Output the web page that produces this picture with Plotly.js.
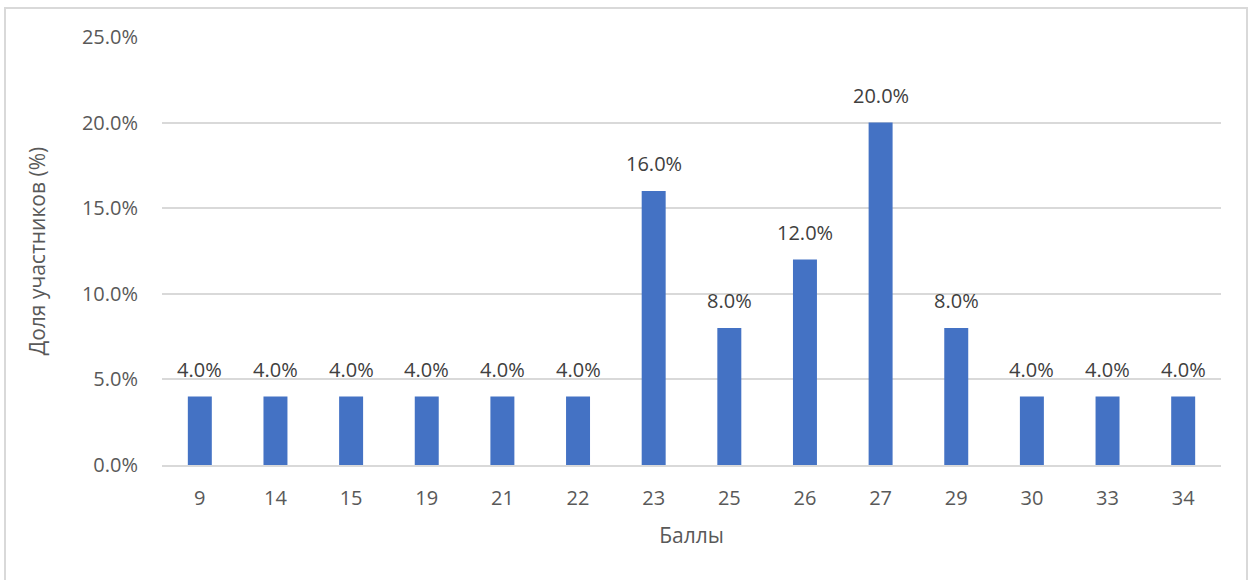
<!DOCTYPE html>
<html>
<head>
<meta charset="utf-8">
<script src="https://cdn.plot.ly/plotly-3.0.1.min.js"></script>
<style>
html,body{margin:0;padding:0;background:#fff;}
#wrap{position:relative;width:1256px;height:580px;}
#chart{width:1256px;height:580px;}
#frame{position:absolute;left:4px;top:7px;width:1244px;height:580px;border:2px solid #d9d9d9;box-sizing:border-box;pointer-events:none;}
</style>
</head>
<body>
<div id="wrap"><div id="chart"></div><div id="frame"></div></div>
<script>
const scores = ["9","14","15","19","21","22","23","25","26","27","29","30","33","34"];
const shares = [4.0,4.0,4.0,4.0,4.0,4.0,16.0,8.0,12.0,20.0,8.0,4.0,4.0,4.0];
const yTicks = [0,5,10,15,20,25];
const yTickLabels = ["0.0%","5.0%","10.0%","15.0%","20.0%","25.0%"];
const xTitle = "Баллы";
const yTitle = "Доля участников (%)";

const font = "'Open Sans', 'Liberation Sans', sans-serif";

const labels = scores.map((s, i) => ({
  x: i, y: shares[i], xref: 'x', yref: 'y',
  text: shares[i].toFixed(1) + '%',
  showarrow: false, yanchor: 'bottom', yshift: 12,
  font: {family: font, size: 20, color: '#404040'}
}));

Plotly.newPlot('chart', [{
  type: 'bar',
  x: scores,
  y: shares,
  marker: {color: '#4472c4'},
  hoverinfo: 'none'
}], {
  width: 1256, height: 580,
  margin: {l: 162, r: 35, t: 37, b: 115},
  paper_bgcolor: '#ffffff',
  plot_bgcolor: '#ffffff',
  bargap: 0.683,
  font: {family: font, color: '#595959', size: 20},
  annotations: labels,
  xaxis: {
    type: 'category',
    range: [-0.5, scores.length - 0.5],
    title: {text: xTitle, font: {size: 21, color: '#595959'}, standoff: 18},
    tickfont: {size: 20, color: '#595959'},
    showline: true, linecolor: '#d9d9d9', linewidth: 2,
    ticks: 'outside', ticklen: 14, tickcolor: 'rgba(0,0,0,0)',
    showgrid: false
  },
  yaxis: {
    range: [0, 25],
    tickvals: yTicks,
    ticktext: yTickLabels,
    tickfont: {size: 20, color: '#595959'},
    title: {text: yTitle, font: {size: 21, color: '#595959'}, standoff: 30},
    showgrid: true, gridcolor: '#d9d9d9', gridwidth: 2,
    zeroline: false,
    showline: false,
    ticks: 'outside', ticklen: 19, tickcolor: 'rgba(0,0,0,0)'
  },
  showlegend: false
}, {displayModeBar: false, staticPlot: true});
</script>
</body>
</html>
